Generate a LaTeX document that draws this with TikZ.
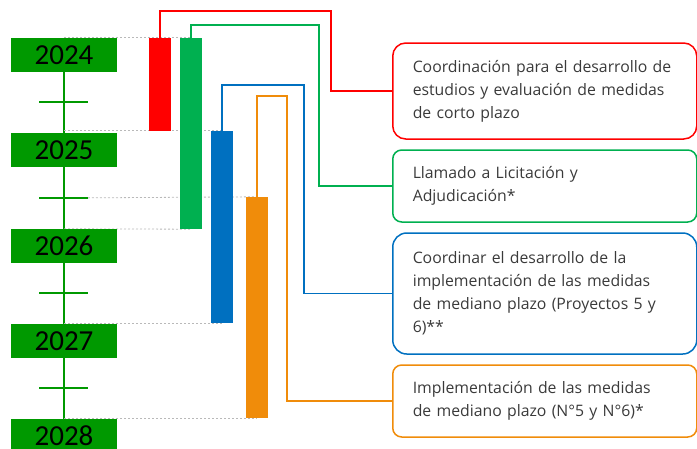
\documentclass[tikz,border=0pt]{standalone}
\usepackage{fontspec}
\setmainfont{Carlito}
\newfontfamily\taskfont{Open Sans}
\usetikzlibrary{positioning,calc,backgrounds}

\definecolor{yeargreen}{HTML}{009900}
\definecolor{barred}{HTML}{FF0000}
\definecolor{bargreen}{HTML}{00B050}
\definecolor{barblue}{HTML}{0070C0}
\definecolor{barorange}{HTML}{F08C0A}
\definecolor{txtgray}{HTML}{3A3A3A}

\begin{document}
\begin{tikzpicture}[x=1pt, y=-1pt,
  yearbox/.style={fill=yeargreen, minimum width=106pt, minimum height=34pt,
                  inner sep=0pt, font=\fontsize{29}{30}\selectfont},
  bar/.style    ={minimum width=22pt, inner sep=0pt},
  tickline/.style={yeargreen, line width=2.5pt},
  guide/.style  ={gray!55, line width=0.8pt, dash pattern=on 2pt off 2pt},
  conn/.style   ={line width=1.2pt},
  taskbox/.style={draw, line width=1.5pt, text width=264pt, inner xsep=20pt,
                  inner ysep=0pt, align=left, anchor=west, text=txtgray,
                  font=\taskfont\fontsize{15.8}{23}\selectfont}]

\useasboundingbox (0,0) rectangle (697,448);
\clip (0,0) rectangle (697,448);

%% ── Timeline: years ──────────────────────────────────────────────
\node[yearbox] (y2024) at (64, 55)  {2024};
\node[yearbox] (y2025) at (64, 150) {2025};
\node[yearbox] (y2026) at (64, 246) {2026};
\node[yearbox] (y2027) at (64, 341) {2027};
\node[yearbox] (y2028) at (64, 436) {2028};

%% ── Timeline: axis and half-year ticks ───────────────────────────
\begin{scope}[on background layer]
  \draw[yeargreen, line width=2pt] (y2024.south) -- (y2028.north);
\end{scope}
\foreach \i/\yy in {1/102, 2/198, 3/293, 4/388}{
  \coordinate (tk\i) at (64,\yy);
  \draw[tickline] ($(tk\i)+(-25,0)$) -- ($(tk\i)+(24,0)$);
}

%% ── Activity bars ────────────────────────────────────────────────
\node[bar, fill=barred,    minimum height=93pt]  (redbar) at (160, 84.5)  {};
\node[bar, fill=bargreen,  minimum height=191pt] (grnbar) at (191, 133.5) {};
\node[bar, fill=barblue,   minimum height=192pt] (blubar) at (222, 227)   {};
\node[bar, fill=barorange, minimum height=221pt] (orgbar) at (257, 307.5) {};

%% ── Guides: bar ends to timeline ─────────────────────────────────
\begin{scope}[on background layer]
  \draw[guide] (y2024.north) -- (grnbar.north);
  \draw[guide] (y2025.north |- blubar.north) -- (blubar.north);
  \draw[guide] (tk2) -- (orgbar.north);
  \draw[guide] (y2026.north) -- (grnbar.south);
  \draw[guide] (y2027.north |- blubar.south) -- (blubar.south);
  \draw[guide] (y2028.north |- orgbar.south) -- (orgbar.south);
\end{scope}

%% ── Task descriptions ────────────────────────────────────────────
\node[taskbox, draw=barred, rounded corners=13pt, minimum height=96pt]
  (redtask) at (392, 91)
  {Coordinación para el desarrollo de\\estudios y evaluación de medidas\\de corto plazo};
\node[taskbox, draw=bargreen, rounded corners=9pt, minimum height=72pt]
  (grntask) at (392, 186)
  {Llamado a Licitación y\\Adjudicación*};
\node[taskbox, draw=barblue, rounded corners=14pt, minimum height=121pt]
  (blutask) at (392, 293.5)
  {Coordinar el desarrollo de la\\implementación de las medidas\\de mediano plazo (Proyectos 5 y\\6)**};
\node[taskbox, draw=barorange, rounded corners=9pt, minimum height=72pt]
  (orgtask) at (392, 401)
  {Implementación de las medidas\\de mediano plazo (N°5 y N°6)*};

%% ── Connectors: bar top → task box ───────────────────────────────
\draw[conn, barred]    (redbar.north) |- (331, 11) |- (redtask.west);
\draw[conn, bargreen]  (grnbar.north) |- (319, 25) |- (grntask.west);
\draw[conn, barblue]   (blubar.north) |- (304, 85) |- (blutask.west);
\draw[conn, barorange] (orgbar.north) |- (287, 96) |- (orgtask.west);
\end{tikzpicture}
\end{document}
